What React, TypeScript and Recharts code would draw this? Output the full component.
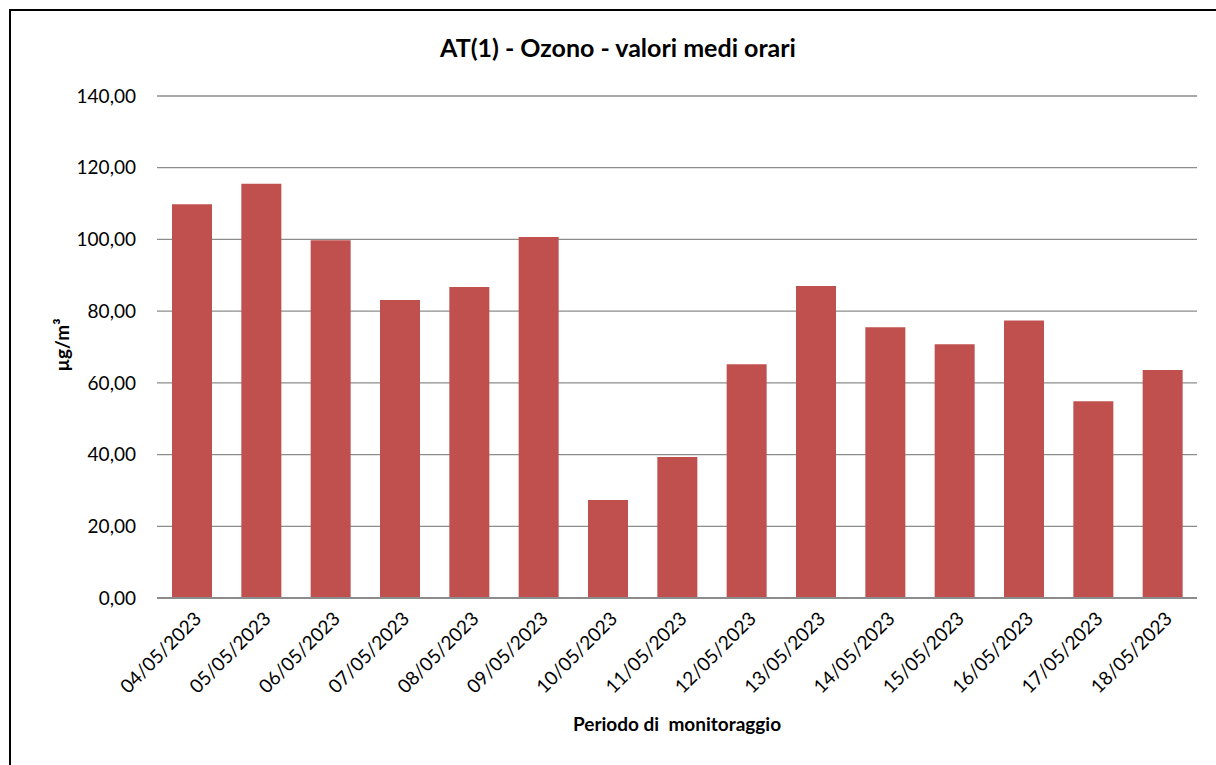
import React from 'react';
import { BarChart, Bar, XAxis, YAxis, CartesianGrid } from 'recharts';

const days = [
  '04/05/2023', '05/05/2023', '06/05/2023', '07/05/2023', '08/05/2023',
  '09/05/2023', '10/05/2023', '11/05/2023', '12/05/2023', '13/05/2023',
  '14/05/2023', '15/05/2023', '16/05/2023', '17/05/2023', '18/05/2023',
];
const ozone = [109.8, 115.5, 99.8, 83.1, 86.7, 100.7, 27.3, 39.3, 65.2, 87.0, 75.5, 70.8, 77.4, 54.9, 63.6];
const yTicks = [0, 20, 40, 60, 80, 100, 120, 140];

const data = days.map((d, i) => ({ day: d, value: ozone[i] }));

const FONT = 'Lato, "Open Sans", sans-serif';

const fmt = (v: number) => v.toFixed(2).replace('.', ',');

const DateTick = (props: any) => {
  const { x, y, payload } = props;
  return (
    <g transform={`translate(${x + 6},${y + 9})`}>
      <text
        x={0}
        y={0}
        dy={7}
        textAnchor="end"
        transform="rotate(-45)"
        fontSize={19}
        fontFamily={FONT}
        fill="#000"
      >
        {payload.value}
      </text>
    </g>
  );
};

const App: React.FC = () => {
  return (
    <div
      style={{
        position: 'fixed',
        left: 0,
        top: 0,
        width: 1216,
        height: 765,
        overflow: 'hidden',
        background: '#fff',
        fontFamily: FONT,
      }}
    >
      {/* frame: only left and top edges are visible in the crop */}
      <div style={{ position: 'absolute', left: 9, top: 9, width: 1207, height: 2, background: '#000' }} />
      <div style={{ position: 'absolute', left: 9, top: 9, width: 2, height: 756, background: '#000' }} />

      <div
        style={{
          position: 'absolute',
          left: 11,
          width: 1214,
          top: 32,
          textAlign: 'center',
          fontSize: 25,
          fontWeight: 'bold',
        }}
      >
        AT(1) - Ozono - valori medi orari
      </div>
      <div
        style={{
          position: 'absolute',
          left: 11,
          width: 1332,
          top: 712,
          textAlign: 'center',
          fontSize: 19,
          fontWeight: 'bold',
          whiteSpace: 'pre',
        }}
      >
        {'Periodo di  monitoraggio'}
      </div>
      <div style={{ position: 'absolute', left: 61, top: 345, width: 0, height: 0 }}>
        <div
          style={{
            transform: 'translate(-50%, -50%) rotate(-90deg)',
            fontSize: 19,
            fontWeight: 'bold',
            whiteSpace: 'nowrap',
            position: 'absolute',
          }}
        >
          µg/m³
        </div>
      </div>

      <div style={{ position: 'absolute', left: 11, top: 11 }}>
        <BarChart
          width={1205}
          height={754}
          data={data}
          margin={{ top: 85, right: 19, left: 66, bottom: 67 }}
        >
          <CartesianGrid vertical={false} stroke="#8c8c8c" strokeWidth={1.3} />
          <XAxis
            dataKey="day"
            interval={0}
            height={100}
            tickLine={false}
            axisLine={{ stroke: '#8c8c8c', strokeWidth: 2 }}
            tick={<DateTick />}
          />
          <YAxis
            width={80}
            domain={[0, 140]}
            ticks={yTicks}
            tickFormatter={fmt}
            tickLine={false}
            axisLine={false}
            tickSize={10}
            tickMargin={11}
            tick={{ fontSize: 19, fill: '#000', fontFamily: FONT }}
          />
          <Bar dataKey="value" fill="#C0504D" barSize={40} isAnimationActive={false} />
        </BarChart>
      </div>
    </div>
  );
};

export default App;
